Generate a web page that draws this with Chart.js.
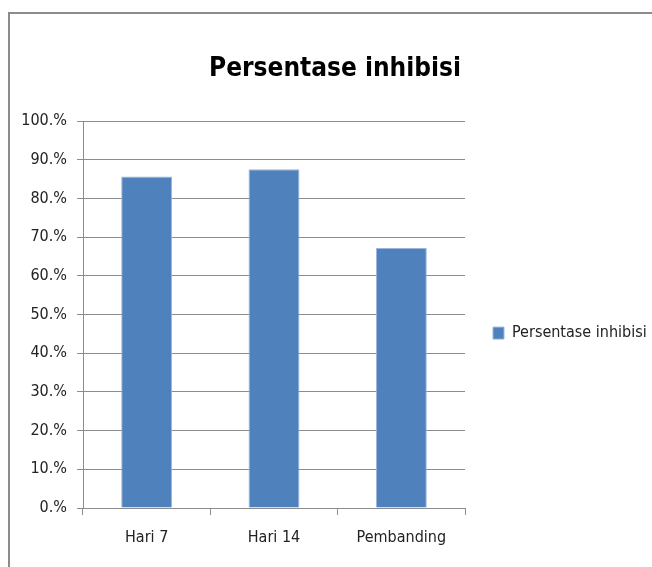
<!DOCTYPE html>
<html>
<head>
<meta charset="utf-8">
<script src="https://cdn.jsdelivr.net/npm/chart.js@4"></script>
<style>
  html, body { margin: 0; padding: 0; background: #fff; }
  #wrap { position: relative; width: 652px; height: 567px; }
</style>
</head>
<body>
<div id="wrap"><canvas id="myChart" width="652" height="567"></canvas></div>
<script>
var categories = ["Hari 7", "Hari 14", "Pembanding"];
var inhibisi = [85.7, 87.6, 67.2];
var tickLabels = ["0.%", "10.%", "20.%", "30.%", "40.%", "50.%", "60.%", "70.%", "80.%", "90.%", "100.%"];

var FONT = "'DejaVu Sans Condensed', 'Liberation Sans Narrow', Lato, sans-serif";

// grey frame round the chart (only top and left edges are visible)
var framePlugin = {
    id: 'frame',
    beforeDraw: function(chart) {
        var ctx = chart.ctx;
        ctx.save();
        ctx.fillStyle = '#fff';
        ctx.fillRect(0, 0, chart.width, chart.height);
        ctx.strokeStyle = '#8c8c8c';
        ctx.lineWidth = 2;
        ctx.beginPath();
        ctx.moveTo(9, chart.height);
        ctx.lineTo(9, 13);
        ctx.lineTo(chart.width, 13);
        ctx.stroke();
        ctx.restore();
    }
};

var ctx = document.getElementById("myChart");

var barChart = new Chart(ctx, {
    type: 'bar',
    data: {
        labels: categories,
        datasets: [{
            label: "Persentase inhibisi",
            data: inhibisi,
            backgroundColor: "#4f81bd",
            borderColor: "#9bb7dd",
            borderWidth: 1,
            barPercentage: 0.4,
            categoryPercentage: 1.0
        }]
    },
    options: {
        responsive: false,
        animation: false,
        layout: {
            padding: { left: 18, right: 0, top: 54, bottom: 0 }
        },
        scales: {
            x: {
                afterFit: function(scale) { scale.height = 59; },
                grid: {
                    display: true,
                    drawOnChartArea: false,
                    offset: true,
                    color: '#8c8c8c',
                    tickLength: 7
                },
                border: { color: '#8c8c8c', width: 1 },
                ticks: {
                    color: '#222',
                    font: { family: FONT, size: 16 },
                    padding: 13
                }
            },
            y: {
                min: 0,
                max: 100,
                afterFit: function(scale) { scale.width = 65; },
                ticks: {
                    stepSize: 10,
                    color: '#222',
                    font: { family: FONT, size: 16 },
                    padding: 10,
                    callback: function(value) {
                        return tickLabels[Math.round(value / 10)];
                    }
                },
                grid: {
                    color: '#8c8c8c',
                    lineWidth: 1,
                    tickLength: 6
                },
                border: { color: '#8c8c8c', width: 1 }
            }
        },
        plugins: {
            title: {
                display: true,
                text: "Persentase inhibisi",
                color: '#000',
                font: { family: FONT, size: 26, weight: 'bold' },
                padding: { top: 0, bottom: 36 }
            },
            legend: {
                position: 'right',
                fullSize: false,
                maxWidth: 187,
                title: {
                    display: true,
                    text: ' ',
                    color: 'rgba(0,0,0,0)',
                    font: { size: 10 },
                    padding: { top: 0, bottom: 25 }
                },
                labels: {
                    color: '#222',
                    font: { family: FONT, size: 16 },
                    boxWidth: 11,
                    boxHeight: 12,
                    padding: 28
                }
            },
            tooltip: { enabled: false }
        }
    },
    plugins: [framePlugin]
});
</script>
</body>
</html>
